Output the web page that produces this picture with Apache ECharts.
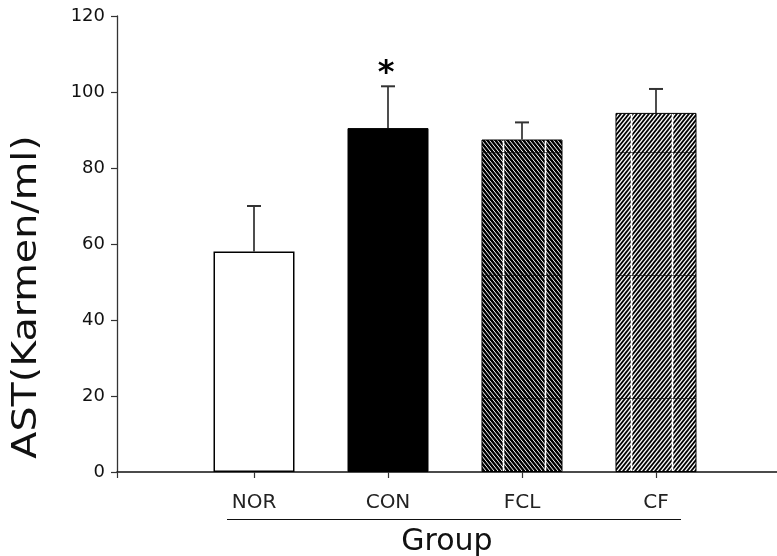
<!DOCTYPE html>
<html>
<head>
<meta charset="utf-8">
<style>
  html, body { margin: 0; padding: 0; background: #fff; }
  #chart { width: 777px; height: 556px; }
</style>
<script src="https://cdn.jsdelivr.net/npm/echarts@6/dist/echarts.min.js"></script>
</head>
<body>
<div id="chart"></div>
<script>
// Group means and standard deviations of serum AST
const categories = ['NOR', 'CON', 'FCL', 'CF'];
const means = [58, 90.5, 87.5, 94.5];
const sds = [12, 11, 4.5, 6.3];
const marks = ['', '*', '', ''];
const yTicks = [0, 20, 40, 60, 80, 100, 120];
const yTitle = 'AST(Karmen/ml)';
const xTitle = 'Group';

const FONT = 'DejaVu Sans';
const W = 777, H = 556;

// Diagonal hatch texture: black ground with thin white stripes,
// occasional white verticals and faint dark horizontals.
function hatch(dir, whiteWidth, vPeriod, vPhase) {
  const c = document.createElement('canvas');
  c.width = W; c.height = H;
  const ctx = c.getContext('2d');
  ctx.fillStyle = '#000';
  ctx.fillRect(0, 0, W, H);
  ctx.strokeStyle = '#fff';
  ctx.lineWidth = whiteWidth;
  const slope = 1.25;
  const run = H / slope;
  for (let k = -run - 10; k < W + run + 10; k += 4) {
    ctx.beginPath();
    if (dir === 'back') { ctx.moveTo(k, 0); ctx.lineTo(k + run, H); }
    else { ctx.moveTo(k + run, 0); ctx.lineTo(k, H); }
    ctx.stroke();
  }
  ctx.lineWidth = 1.6;
  for (let x = vPhase; x < W; x += vPeriod) {
    ctx.beginPath(); ctx.moveTo(x + 0.5, 0); ctx.lineTo(x + 0.5, H); ctx.stroke();
  }
  ctx.strokeStyle = 'rgba(0,0,0,0.6)';
  ctx.lineWidth = 1;
  for (let y = 29; y < H; y += 123) {
    ctx.beginPath(); ctx.moveTo(0, y + 0.5); ctx.lineTo(W, y + 0.5); ctx.stroke();
  }
  return c;
}

const fills = [
  '#ffffff',
  '#000000',
  { image: hatch('back', 1.0, 42, 41), repeat: 'repeat' },
  { image: hatch('fwd', 1.3, 41, 16), repeat: 'repeat' }
];

const barData = categories.map((name, i) => ({
  name: name,
  value: [i + 1, means[i]],
  itemStyle: { color: fills[i], borderColor: '#000', borderWidth: i === 0 ? 1.5 : 1 }
}));
const errData = categories.map((name, i) => [i + 1, means[i], sds[i], marks[i]]);

const chart = echarts.init(document.getElementById('chart'), null, { renderer: 'canvas' });
chart.setOption({
  animation: false,
  backgroundColor: '#fff',
  grid: { left: 117, right: 0, top: 16, bottom: 84, outerBoundsMode: 'none', containLabel: false },
  xAxis: {
    type: 'value',
    min: -0.0224,
    max: 4.903,
    name: xTitle,
    nameLocation: 'middle',
    nameGap: 55,
    nameTextStyle: { fontFamily: FONT, fontSize: 30, color: '#111' },
    axisLine: { show: true, lineStyle: { color: '#111', width: 1.5 } },
    axisTick: { show: true, length: 6, inside: false, customValues: [-0.0224, 1, 2, 3, 4], lineStyle: { color: '#333', width: 1.2 } },
    axisLabel: {
      show: true,
      customValues: [1, 2, 3, 4],
      margin: 21,
      fontFamily: FONT, fontSize: 20, color: '#222',
      formatter: v => categories[Math.round(v) - 1] || ''
    },
    splitLine: { show: false }
  },
  yAxis: {
    type: 'value',
    min: 0,
    max: 120,
    interval: 20,
    axisLine: { show: true, onZero: false, lineStyle: { color: '#333', width: 1.3 } },
    axisTick: { show: true, length: 6, lineStyle: { color: '#333', width: 1.2 } },
    axisLabel: {
      margin: 12, fontFamily: FONT, fontSize: 18, color: '#111',
      formatter: v => (yTicks.indexOf(v) >= 0 ? String(v) : '')
    },
    splitLine: { show: false }
  },
  series: [
    {
      type: 'bar',
      barWidth: 81,
      data: barData,
      z: 2
    },
    {
      type: 'custom',
      z: 3,
      data: errData,
      renderItem: function (params, api) {
        const x = api.value(0), m = api.value(1), e = api.value(2);
        const mark = errData[params.dataIndex][3];
        const base = api.coord([x, m]);
        const top = api.coord([x, m + e]);
        const children = [
          { type: 'line', shape: { x1: base[0], y1: base[1], x2: top[0], y2: top[1] },
            style: { stroke: '#222', lineWidth: 1.6 } },
          { type: 'line', shape: { x1: top[0] - 7, y1: top[1], x2: top[0] + 7, y2: top[1] },
            style: { stroke: '#333', lineWidth: 2 } }
        ];
        if (mark) {
          children.push({ type: 'text', style: {
            text: mark, x: top[0] - 2, y: top[1] + 3,
            align: 'center', verticalAlign: 'bottom',
            font: 'bold 32px "' + FONT + '"', fill: '#000'
          } });
        }
        return { type: 'group', children: children };
      }
    }
  ],
  graphic: [
    // rule under the group names
    { type: 'line', shape: { x1: 227, y1: 519.5, x2: 681, y2: 519.5 },
      style: { stroke: '#111', lineWidth: 1.2 } },
    // vertical axis title, stretched along its length
    { type: 'text', x: 27, y: 297, rotation: Math.PI / 2, scaleX: 1.2, scaleY: 1,
      style: { text: yTitle, font: '33px "' + FONT + '"', fill: '#111',
               align: 'center', verticalAlign: 'middle' } }
  ]
});
</script>
</body>
</html>
